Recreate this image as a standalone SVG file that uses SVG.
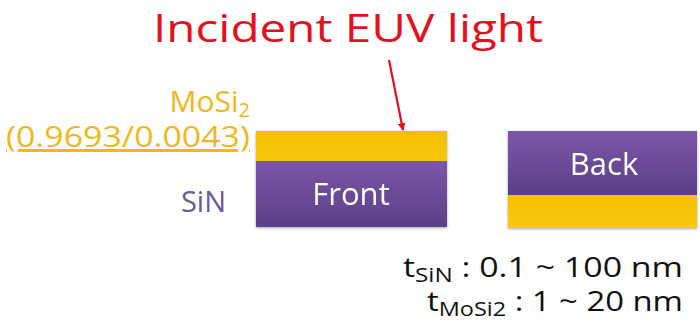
<svg xmlns="http://www.w3.org/2000/svg" width="700" height="327" viewBox="0 0 700 327">
  <defs>
    <linearGradient id="sin" x1="0" y1="0" x2="0" y2="1">
      <stop offset="0" stop-color="#7b56a8"/>
      <stop offset="1" stop-color="#5b3f88"/>
    </linearGradient>
    <linearGradient id="mosi" x1="0" y1="0" x2="0" y2="1">
      <stop offset="0" stop-color="#f6c000"/>
      <stop offset="1" stop-color="#f9c810"/>
    </linearGradient>
    <marker id="head" markerWidth="8" markerHeight="8" refX="7" refY="4" orient="auto" markerUnits="userSpaceOnUse" viewBox="0 0 8 8">
      <path d="M0,0 L8,4 L0,8 z" fill="#e3101e"/>
    </marker>
    <filter id="shadow" x="-5%" y="-10%" width="110%" height="130%">
      <feGaussianBlur in="SourceAlpha" stdDeviation="1.5"/>
      <feOffset dy="1" result="b"/>
      <feComponentTransfer><feFuncA type="linear" slope="0.35"/></feComponentTransfer>
      <feMerge><feMergeNode/><feMergeNode in="SourceGraphic"/></feMerge>
    </filter>
  </defs>
  <style>
    text { font-family: "Open Sans", "Noto Sans", sans-serif; }
    .title { fill: #e3101e; font-size: 38px; }
    .gold { fill: #f0b81c; font-size: 30px; }
    .sinlbl { fill: #6a5a9a; font-size: 29px; }
    .lbl { fill: #ffffff; font-size: 31px; }
    .dim { fill: #111111; font-size: 28px; }
    .sub { font-size: 20px; }
  </style>

  <rect width="700" height="327" fill="#ffffff"/>

  <text class="title" x="348" y="42" text-anchor="middle" textLength="390" lengthAdjust="spacingAndGlyphs">Incident EUV light</text>

  <g id="connectors">
    <line x1="389" y1="60" x2="403" y2="130" stroke="#e3101e" stroke-width="2.2" marker-end="url(#head)"/>
  </g>

  <g id="mosi2-label">
    <text class="gold" x="250" y="112" text-anchor="end">MoSi<tspan class="sub" dy="5">2</tspan></text>
    <text class="gold" x="250" y="147" text-anchor="end" text-decoration="underline" textLength="244" lengthAdjust="spacingAndGlyphs">(0.9693/0.0043)</text>
  </g>

  <g id="sin-label">
    <text class="sinlbl" x="226" y="212" text-anchor="end">SiN</text>
  </g>

  <g id="front" filter="url(#shadow)">
    <rect x="256" y="131" width="191" height="30" fill="url(#mosi)"/>
    <rect x="256" y="161" width="191" height="66" fill="url(#sin)"/>
    <text class="lbl" x="351" y="205" text-anchor="middle">Front</text>
  </g>

  <g id="back" filter="url(#shadow)">
    <rect x="508" y="131" width="189" height="64" fill="url(#sin)"/>
    <rect x="508" y="195" width="189" height="33" fill="url(#mosi)"/>
    <text class="lbl" x="604" y="175" text-anchor="middle">Back</text>
  </g>

  <g id="thickness">
    <text class="dim" x="683" y="277" text-anchor="end" textLength="280" lengthAdjust="spacingAndGlyphs">t<tspan class="sub" dy="5">SiN</tspan><tspan dy="-5"> : 0.1 ~ 100 nm</tspan></text>
    <text class="dim" x="683" y="311" text-anchor="end" textLength="256" lengthAdjust="spacingAndGlyphs">t<tspan class="sub" dy="5">MoSi2</tspan><tspan dy="-5"> : 1 ~ 20 nm</tspan></text>
  </g>
</svg>
